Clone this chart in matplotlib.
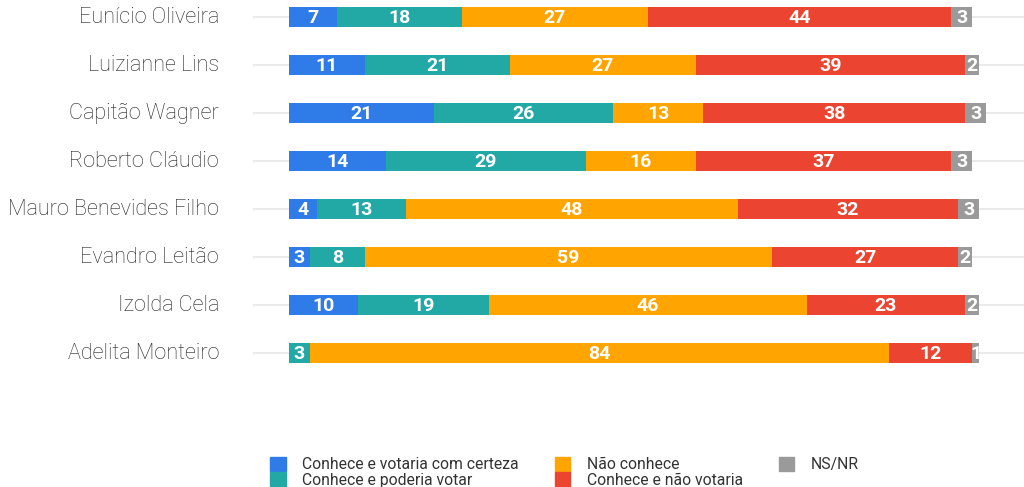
import matplotlib
matplotlib.use("Agg")
import matplotlib.pyplot as plt
import numpy as np
from matplotlib.patches import Patch

candidates = ["Eunício Oliveira", "Luizianne Lins", "Capitão Wagner", "Roberto Cláudio",
              "Mauro Benevides Filho", "Evandro Leitão", "Izolda Cela", "Adelita Monteiro"]
series_names = ["Conhece e votaria com certeza", "Conhece e poderia votar", "Não conhece",
                "Conhece e não votaria", "NS/NR"]
votaria = [7, 11, 21, 14, 4, 3, 10, 0]
poderia = [18, 21, 26, 29, 13, 8, 19, 3]
nao_conhece = [27, 27, 13, 16, 48, 59, 46, 84]
nao_votaria = [44, 39, 38, 37, 32, 27, 23, 12]
nsnr = [3, 2, 3, 3, 3, 2, 2, 1]
colors = ["#2f7be8", "#22a9a5", "#ffa400", "#eb4430", "#9a9a9a"]

plt.rcParams['font.family'] = ['Roboto', 'DejaVu Sans']
W, H = 1024, 487
fig = plt.figure(figsize=(W / 100, H / 100), dpi=100)
left_px, right_px, top_px, bot_px = 253, 1024, 0, 401
ax = fig.add_axes([left_px / W, 1 - bot_px / H, (right_px - left_px) / W, (bot_px - top_px) / H])

scale = 6.9
ax.set_xlim(-(289 - 253) / scale, (1024 - 289) / scale)
ax.set_ylim(8 - 0.3 / 48, -17.3 / 48)

y = np.arange(len(candidates))
for yi in y:
    ax.axhline(yi, color="#e6e6e6", lw=1.2, zorder=0)

data = [votaria, poderia, nao_conhece, nao_votaria, nsnr]
left = np.zeros(len(candidates))
for vals, c in zip(data, colors):
    vals = np.array(vals, dtype=float)
    ax.barh(y, vals, left=left, height=0.42, color=c, zorder=2)
    for yi, l, v in zip(y, left, vals):
        if v > 0:
            ax.text(l + v / 2, yi + 0.01, f"{int(v)}", ha="center", va="center", color="white",
                    fontsize=14, fontweight="bold", zorder=3)
    left += vals

for yi, name in zip(y, candidates):
    ax.text(-(289 - 219) / scale, yi, name, ha="right", va="center", fontsize=15.6,
            fontweight="light", color="#222222", zorder=3)

ax.axis("off")

handles = [Patch(color=c) for c in colors]
leg = fig.legend(handles, series_names, ncol=3, loc="upper left",
                 bbox_to_anchor=(270 / W, 1 - 457 / H), frameon=False, fontsize=11.3,
                 handlelength=1.0, handleheight=1.0, handletextpad=1.05,
                 columnspacing=2.28, labelspacing=0.0, borderpad=0, borderaxespad=0)
for t in leg.get_texts():
    t.set_color("#333333")

fig.savefig("out.png", dpi=100)
